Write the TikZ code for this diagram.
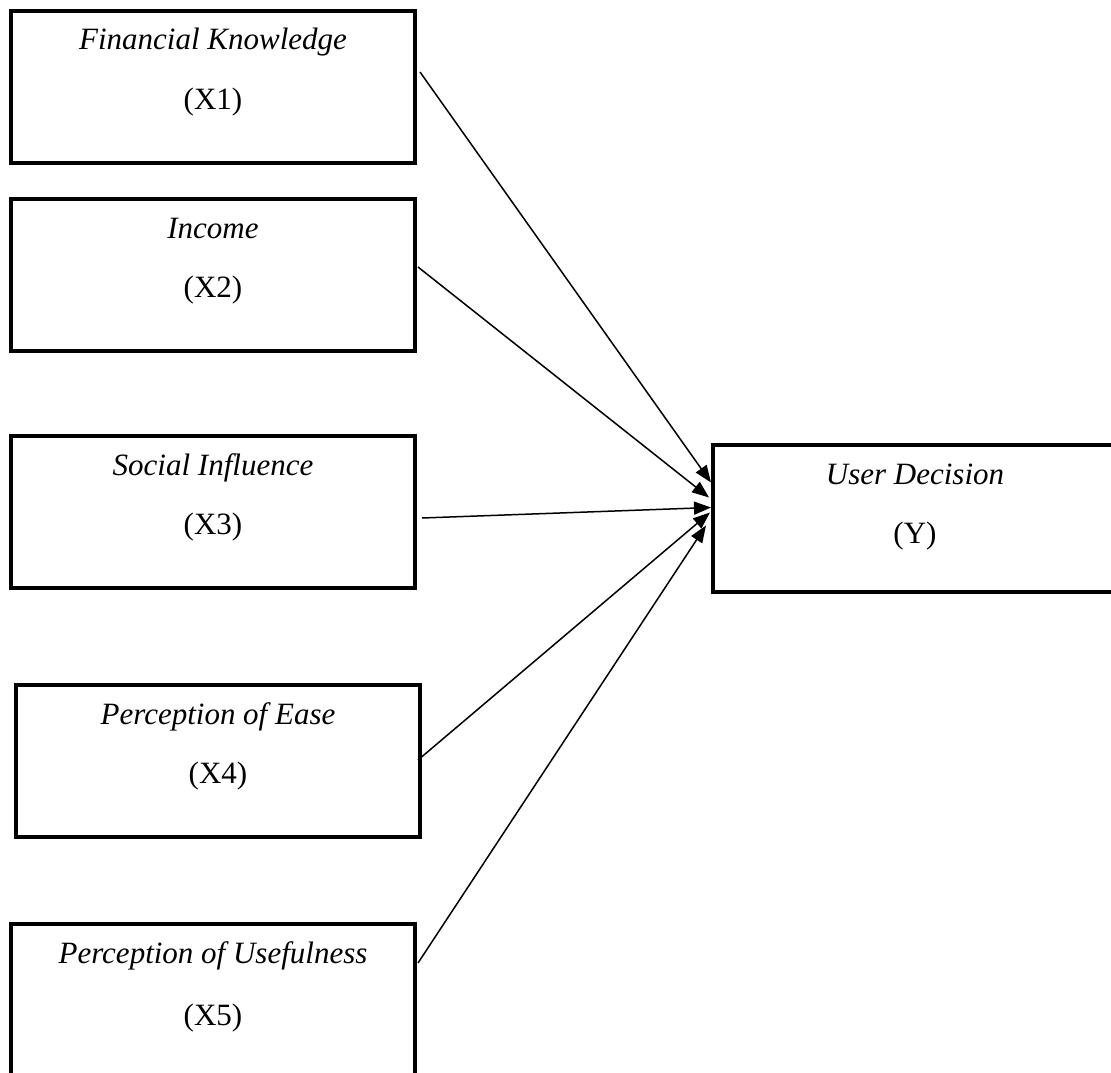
\documentclass[tikz,border=0pt]{standalone}
\usepackage{fontspec}
\setmainfont{Liberation Serif}
\usetikzlibrary{arrows.meta}
\begin{document}
\begin{tikzpicture}[x=1pt,y=-1pt,
  varbox/.style={draw=black,line width=4pt,rectangle,minimum width=404pt,minimum height=152pt,inner sep=0pt},
  ttl/.style={anchor=base,font=\fontsize{31}{37}\selectfont\itshape,inner sep=0pt},
  sub/.style={anchor=base,font=\fontsize{31}{37}\selectfont,inner sep=0pt},
  link/.style={line width=1.5pt,-{Triangle[length=17pt,width=13pt]}}]
\useasboundingbox (0,0) rectangle (1111,1073);
\clip (0,0) rectangle (1111,1073);
% boxes
\node[varbox] (x1) at (213,87) {};
\node[varbox] (x2) at (213,275) {};
\node[varbox] (x3) at (213,512) {};
\node[varbox] (x4) at (218,761) {};
\node[varbox,minimum height=170pt] (x5) at (213,1009) {};
\node[varbox,minimum width=404pt,minimum height=147pt] (y) at (915,518.5) {};
% texts
\node[ttl] (t1) at ([yshift=-41pt]x1.north) {Financial Knowledge};
\node[sub] (s1) at ([yshift=-100pt]x1.north) {(X1)};
\node[ttl] (t2) at ([yshift=-41pt]x2.north) {Income};
\node[sub] (s2) at ([yshift=-100pt]x2.north) {(X2)};
\node[ttl] (t3) at ([yshift=-41pt]x3.north) {Social Influence};
\node[sub] (s3) at ([yshift=-100pt]x3.north) {(X3)};
\node[ttl] (t4) at ([yshift=-41pt]x4.north) {Perception of Ease};
\node[sub] (s4) at ([yshift=-100pt]x4.north) {(X4)};
\node[ttl] (t5) at ([yshift=-41pt]x5.north) {Perception of Usefulness};
\node[sub] (s5) at ([yshift=-103pt]x5.north) {(X5)};
\node[ttl] (ty) at ([yshift=-41pt]y.north) {User Decision};
\node[sub] (sy) at ([yshift=-100pt]y.north) {(Y)};
% connectors
\coordinate (a1) at ([xshift=3pt,yshift=15pt]x1.east);
\coordinate (a2) at ([xshift=1pt,yshift=8pt]x2.east);
\coordinate (a3) at ([xshift=5pt,yshift=-6pt]x3.east);
\coordinate (a4) at ([xshift=-4pt,yshift=1pt]x4.east);
\coordinate (a5) at ([xshift=1pt,yshift=46pt]x5.east);
\draw[link] (a1) -- ([xshift=0pt,yshift=36pt]y.west);
\draw[link] (a2) -- ([xshift=-2pt,yshift=21pt]y.west);
\draw[link] (a3) -- ([xshift=0pt,yshift=11pt]y.west);
\draw[link] (a4) -- ([xshift=-1pt,yshift=6pt]y.west);
\draw[link] (a5) -- ([xshift=-5pt,yshift=-7pt]y.west);
\end{tikzpicture}
\end{document}
